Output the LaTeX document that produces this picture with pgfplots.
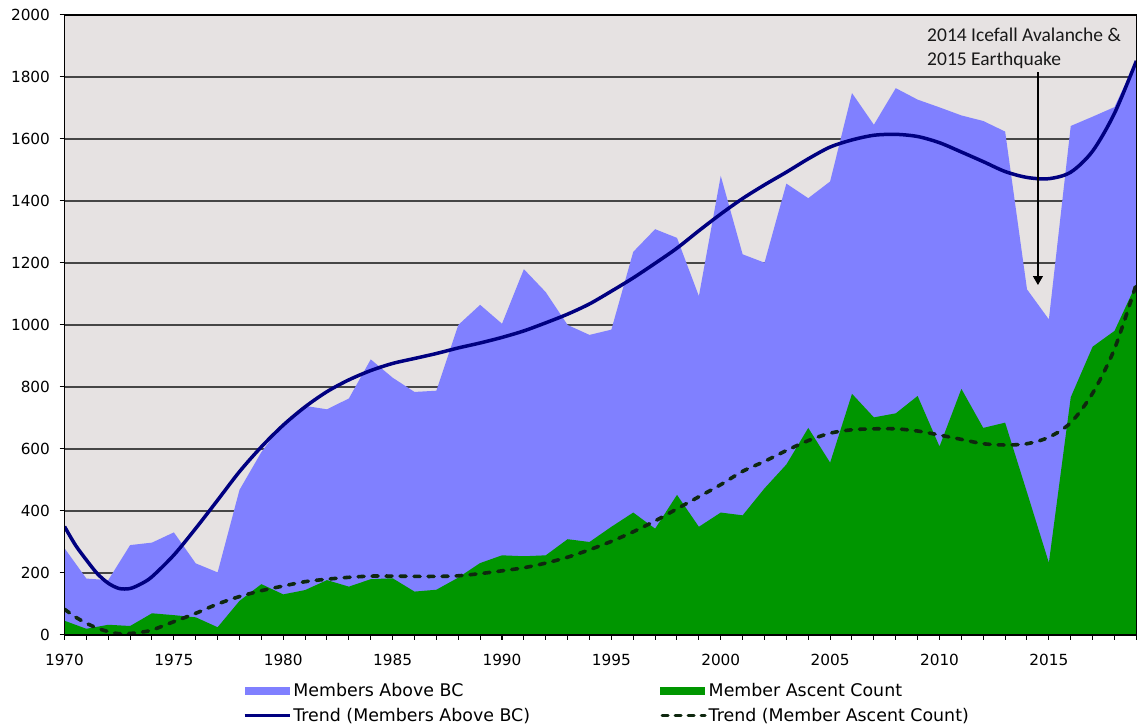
\documentclass[border=0pt]{standalone}
\usepackage{fontspec}
\setmainfont{DejaVu Sans}
\newfontfamily\annfont{Carlito}
\usepackage{pgfplots}
\pgfplotsset{compat=1.18}
\usetikzlibrary{arrows.meta}
\definecolor{bgc}{RGB}{230,226,226}
\definecolor{areablue}{RGB}{128,128,255}
\definecolor{areagreen}{RGB}{0,150,0}
\definecolor{trendblue}{RGB}{0,0,128}
\definecolor{trendgreen}{RGB}{15,40,15}
\definecolor{gridc}{RGB}{70,70,70}
\pgfplotsset{
  /pgfplots/layers/mylayers/.define layer set={axis background,axis grid,main,axis ticks,axis lines,axis tick labels,axis descriptions,axis foreground}{/pgfplots/layers/standard},
}
\begin{document}
\begin{tikzpicture}
\begin{axis}[
  set layers=mylayers,
  scale only axis, width=1071.9pt, height=620pt,
  xmin=1970, xmax=2019, ymin=0, ymax=2000,
  xtick={1970,1975,...,2015}, minor xtick={1970,...,2019},
  ytick={0,200,...,2000},
  xtick pos=left, ytick pos=left,
  tick align=outside, major tick length=5pt, minor tick length=5pt,
  tick style={black, line width=1pt},
  ymajorgrids, grid style={gridc, line width=1.3pt},
  axis background/.style={fill=bgc},
  axis line style={black, line width=1.5pt},
  ticklabel style={font=\fontsize{15.3}{18}\selectfont},
  /pgf/number format/assume math mode=true,
  /pgf/number format/1000 sep={},
  xticklabel style={yshift=-11pt},
  yticklabel style={xshift=-6pt},
  legend columns=2,
  legend cell align=left,
  legend style={
    at={(rel axis cs:0.1662,-0.0745)}, anchor=north west,
    draw=none, fill=none, inner sep=0pt,
    font=\fontsize{17.4}{20}\selectfont,
    /tikz/every even column/.append style={column sep=128pt},
    row sep=6pt,
  },
]
\coordinate (O) at (rel axis cs:0,0);
\addplot[fill=areablue, draw=none, legend image code/.code={\fill[areablue] (0pt,-4pt) rectangle (45pt,4pt);}] coordinates {
(1970,280) (1971,182) (1972,177) (1973,290) (1974,298) (1975,331) (1976,231) (1977,202) (1978,468) (1979,590)
(1980,683) (1981,739) (1982,728) (1983,763) (1984,889) (1985,830) (1986,784) (1987,788) (1988,1000) (1989,1065)
(1990,1004) (1991,1180) (1992,1106) (1993,1000) (1994,968) (1995,985) (1996,1236) (1997,1309) (1998,1281) (1999,1093)
(2000,1481) (2001,1228) (2002,1201) (2003,1456) (2004,1409) (2005,1463) (2006,1748) (2007,1646) (2008,1764) (2009,1727)
(2010,1702) (2011,1676) (2012,1658) (2013,1624) (2014,1115) (2015,1018) (2016,1642) (2017,1672) (2018,1703) (2019,1855)
} \closedcycle;
\addlegendentry{Members Above BC}
\addplot[fill=areagreen, draw=none, legend image code/.code={\fill[areagreen] (0pt,-4pt) rectangle (45pt,4pt);}] coordinates {
(1970,46) (1971,20) (1972,33) (1973,29) (1974,70) (1975,64) (1976,57) (1977,25) (1978,110) (1979,164)
(1980,131) (1981,145) (1982,177) (1983,156) (1984,180) (1985,183) (1986,140) (1987,146) (1988,185) (1989,232)
(1990,257) (1991,254) (1992,257) (1993,309) (1994,300) (1995,349) (1996,395) (1997,343) (1998,452) (1999,349)
(2000,395) (2001,386) (2002,473) (2003,550) (2004,668) (2005,556) (2006,778) (2007,702) (2008,715) (2009,771)
(2010,608) (2011,794) (2012,668) (2013,685) (2014,460) (2015,233) (2016,767) (2017,930) (2018,981) (2019,1133)
} \closedcycle;
\addlegendentry{Member Ascent Count}
\addplot[trendblue, line width=3.5pt, smooth, legend image code/.code={\draw[trendblue, line width=3.5pt] (0pt,0pt) -- (45pt,0pt);}] coordinates {
(1970,350) (1970.5,290) (1971,242) (1971.5,198) (1972,167) (1972.5,150) (1973,150) (1973.5,165) (1974,188) (1975,258)
(1976,344) (1977,435) (1978,527) (1979,607) (1980,677) (1981,736) (1982,785) (1983,823) (1984,853) (1985,876)
(1986,892) (1987,908) (1988,926) (1989,942) (1990,960) (1991,981) (1992,1007) (1993,1035) (1994,1068) (1995,1109)
(1996,1152) (1997,1199) (1998,1248) (1999,1304) (2000,1358) (2001,1408) (2002,1452) (2003,1493) (2004,1536) (2005,1574)
(2006,1597) (2007,1612) (2008,1615) (2009,1608) (2010,1588) (2011,1558) (2012,1527) (2013,1495) (2014,1476) (2015,1472)
(2016,1493) (2017,1561) (2018,1683) (2019,1852)
};
\addlegendentry{Trend (Members Above BC)}
\addplot[trendgreen, line width=3.6pt, line cap=round, dash pattern=on 6pt off 8pt, smooth, legend image code/.code={\draw[trendgreen, line width=3.2pt, line cap=round, dash pattern=on 6pt off 7pt] (2pt,0pt) -- (45pt,0pt);}] coordinates {
(1970,83) (1970.5,58) (1971,38) (1971.5,22) (1972,11) (1972.5,4) (1973,5) (1973.5,9) (1974,16) (1975,43)
(1976,70) (1977,100) (1978,124) (1979,143) (1980,158) (1981,172) (1982,180) (1983,186) (1984,190) (1985,190)
(1986,189) (1987,189) (1988,191) (1989,198) (1990,207) (1991,217) (1992,232) (1993,251) (1994,275) (1995,302)
(1996,333) (1997,368) (1998,407) (1999,446) (2000,485) (2001,528) (2002,560) (2003,595) (2004,627) (2005,651)
(2006,662) (2007,665) (2008,665) (2009,658) (2010,645) (2011,631) (2012,617) (2013,613) (2014,617) (2015,638)
(2016,685) (2017,780) (2018,923) (2019,1133)
};
\addlegendentry{Trend (Member Ascent Count)}
\draw[black, line width=1.2pt, -{Triangle[width=10pt,length=9pt]}] (axis cs:2014.5,1815) -- (axis cs:2014.5,1129);
\node[anchor=base west, inner sep=0pt, font=\annfont\fontsize{19.5}{23}\selectfont, text=black!90] at (axis cs:2009.43,1915) {2014 Icefall Avalanche \&};
\node[anchor=base west, inner sep=0pt, font=\annfont\fontsize{19.5}{23}\selectfont, text=black!90] at (axis cs:2009.43,1838) {2015 Earthquake};
\end{axis}
\pgfresetboundingbox
\path[use as bounding box] ([shift={(-64.5pt,-92pt)}]O) rectangle ++(1138pt,727pt);
\end{tikzpicture}
\end{document}
